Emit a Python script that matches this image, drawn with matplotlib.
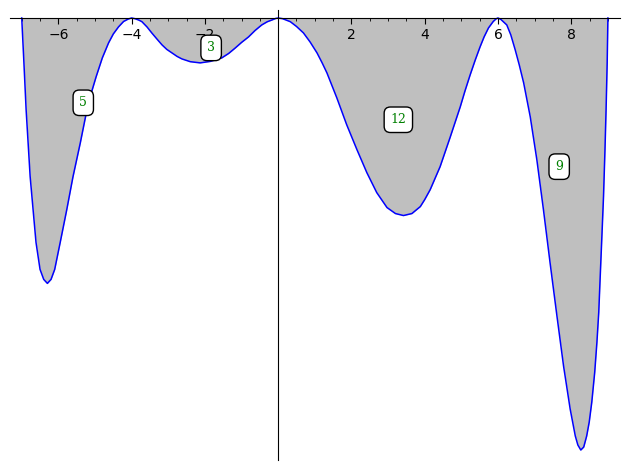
import matplotlib
matplotlib.use("Agg")
import matplotlib.pyplot as plt
from matplotlib.ticker import MultipleLocator

# Curve samples (x, y)
x_vals = [-7.00, -6.94, -6.88, -6.77, -6.61, -6.50, -6.40, -6.30, -6.20, -6.10, -5.95, -5.77, -5.60,
          -5.40, -5.22, -5.10, -4.97, -4.80, -4.63, -4.50, -4.36, -4.22, -4.09, -4.00,
          -3.90, -3.80, -3.72, -3.58, -3.45, -3.30, -3.17, -3.04, -2.90, -2.76, -2.63, -2.40,
          -2.13, -1.85, -1.54, -1.35, -1.17, -1.00, -0.81, -0.63, -0.45, -0.30, -0.17, -0.07, 0.00,
          0.12, 0.33, 0.50, 0.69, 0.87, 1.06, 1.20, 1.33, 1.60, 1.87, 2.15, 2.42, 2.69, 2.97,
          3.20, 3.42, 3.65, 3.88, 4.00, 4.15,
          4.42, 4.69, 4.97, 5.10, 5.24, 5.38, 5.51, 5.62, 5.74, 5.87, 5.95, 6.00,
          6.08, 6.24, 6.35, 6.47, 6.58, 6.70, 6.88, 7.06, 7.24, 7.42, 7.61, 7.79, 7.97, 8.11,
          8.18, 8.26, 8.34, 8.42, 8.49, 8.56, 8.64, 8.70, 8.75, 8.79, 8.84, 8.88, 8.92, 8.95,
          8.98, 9.00]
y_vals = [0, -45, -92, -159, -225, -252, -262, -266, -262, -252, -225, -192, -159,
          -125, -92, -75, -59, -40, -25, -16, -9, -3.5, -1, 0,
          -0.8, -2.2, -3.7, -9, -15, -21.5, -27, -31.5, -35, -38.5, -41, -43.8,
          -45, -43.5, -40, -35.5, -30, -24.5, -19, -12.5, -7, -3.8, -2, -0.5, 0,
          -0.7, -3.7, -8.5, -15, -24, -35, -45, -55, -80, -107, -132, -155, -175, -190,
          -196, -198, -196, -189, -182, -172,
          -149, -120, -89, -73, -57, -42, -29, -19, -10, -3.5, -0.8, 0,
          -1.5, -7, -17, -32, -47, -65, -99, -142, -192, -245, -299, -349, -392, -419,
          -428, -433, -430, -419, -405, -385, -355, -325, -295, -259, -215, -179, -132, -92,
          -45, 0]

# Region labels
label_texts = ["5", "3", "12", "9"]
label_x = [-5.32, -1.83, 3.28, 7.67]
label_y = [-85, -30, -102, -149]

major_ticks = [-6, -4, -2, 2, 4, 6, 8]

fig = plt.figure(figsize=(6.3, 4.7), dpi=100)
ax = fig.add_axes([10 / 630, 10 / 470, 610 / 630, 450 / 470])

ax.fill_between(x_vals, y_vals, 0, color=(0.5, 0.5, 0.5), alpha=0.5, linewidth=0)
ax.plot(x_vals, y_vals, color="blue", linewidth=1.1)

for t, lx, ly in zip(label_texts, label_x, label_y):
    ax.text(lx, ly, t, color="green", fontsize=9, family="DejaVu Serif",
            ha="center", va="center",
            bbox=dict(boxstyle="round,pad=0.5", fc="white", ec="black", lw=1.0))

ax.set_xlim(-7.32, 9.33)
ax.set_ylim(-443, 8)

ax.spines["top"].set_visible(False)
ax.spines["right"].set_visible(False)
ax.spines["bottom"].set_position(("data", 0))
ax.spines["left"].set_position(("data", 0))

ax.set_xticks(major_ticks)
ax.set_xticklabels(["\u2212" + str(abs(v)) if v < 0 else str(v) for v in major_ticks])
ax.xaxis.set_minor_locator(MultipleLocator(0.5))
ax.set_yticks([])
ax.tick_params(axis="x", which="major", length=4, labelsize=10, pad=3)
ax.tick_params(axis="x", which="minor", length=2.5)

fig.savefig("out.png", dpi=100)
